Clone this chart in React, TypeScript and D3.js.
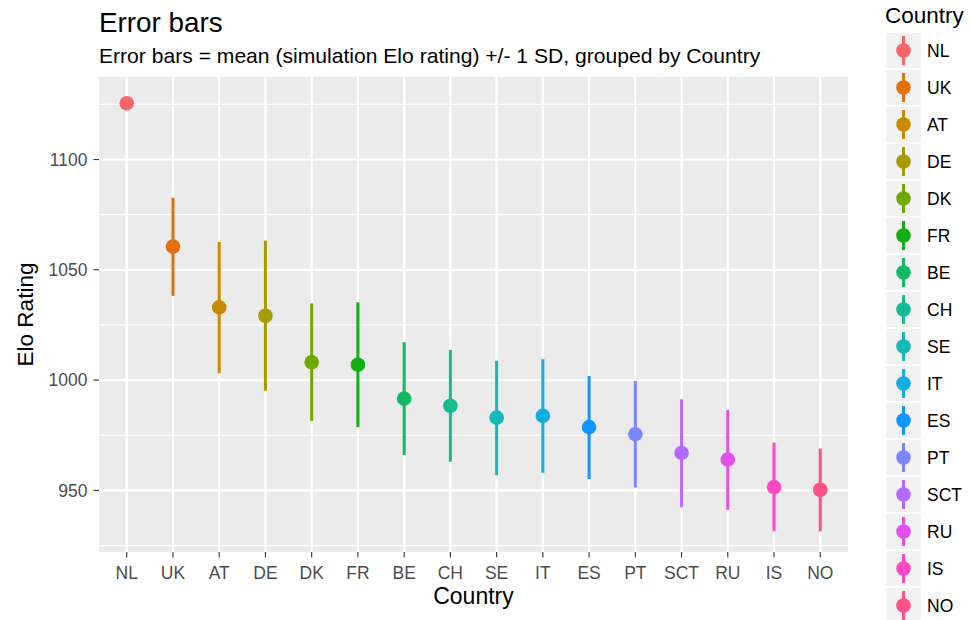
import React, { useEffect, useRef } from "react";
import * as d3 from "d3";

// values
const countries = ["NL", "UK", "AT", "DE", "DK", "FR", "BE", "CH", "SE", "IT", "ES", "PT", "SCT", "RU", "IS", "NO"];
const meanElo = [1125.5, 1060.5, 1033.0, 1029.2, 1008.1, 1007.0, 991.6, 988.4, 983.0, 983.8, 978.7, 975.5, 967.0, 964.0, 951.5, 950.3];
const upperElo = [null, 1082.7, 1062.6, 1063.2, 1034.8, 1035.3, 1017.2, 1013.7, 1008.8, 1009.5, 1001.9, 999.6, 991.3, 986.5, 971.7, 969.0];
const lowerElo = [null, 1038.2, 1003.1, 995.2, 981.5, 978.7, 966.1, 963.0, 956.9, 958.0, 955.2, 951.3, 942.4, 941.2, 931.5, 931.5];
const countryColors = ["#F5666B", "#E2700F", "#C88A00", "#A49C00", "#71A800", "#12B012", "#14B965", "#14BC90", "#16B7B7", "#14ADE2", "#1496FF", "#7B86FF", "#B56AFF", "#E250EA", "#FF48C4", "#FF5088"];
const yTicks = [950, 1000, 1050, 1100];
const yMinor = [925, 975, 1025, 1075, 1125];

const FONT = "'Liberation Sans', Arial, Helvetica, sans-serif";

export default function App() {
  const ref = useRef<SVGSVGElement>(null);

  useEffect(() => {
    const svg = d3.select(ref.current);
    svg.selectAll("*").remove();

    // panel box
    const panel = { left: 99, top: 77, right: 848, bottom: 552 };

    const x = d3.scalePoint<string>()
      .domain(countries)
      .range([panel.left, panel.right])
      .padding(0.6);

    const y = d3.scaleLinear()
      .domain([922.1, 1137.4])
      .range([panel.bottom, panel.top]);

    const color = d3.scaleOrdinal<string, string>().domain(countries).range(countryColors);

    // background
    svg.append("rect").attr("x", 0).attr("y", 0).attr("width", 972).attr("height", 620).attr("fill", "white");
    svg.append("rect")
      .attr("x", panel.left).attr("y", panel.top)
      .attr("width", panel.right - panel.left).attr("height", panel.bottom - panel.top)
      .attr("fill", "#EBEBEB");

    // grid lines (minor first, then major)
    svg.append("g").selectAll("line").data(yMinor).join("line")
      .attr("x1", panel.left).attr("x2", panel.right)
      .attr("y1", d => y(d)).attr("y2", d => y(d))
      .attr("stroke", "white").attr("stroke-width", 1.1);
    svg.append("g").selectAll("line").data(yTicks).join("line")
      .attr("x1", panel.left).attr("x2", panel.right)
      .attr("y1", d => y(d)).attr("y2", d => y(d))
      .attr("stroke", "white").attr("stroke-width", 2.2);
    svg.append("g").selectAll("line").data(countries).join("line")
      .attr("x1", d => x(d)!).attr("x2", d => x(d)!)
      .attr("y1", panel.top).attr("y2", panel.bottom)
      .attr("stroke", "white").attr("stroke-width", 2.2);

    // error bars + points
    const rows = countries.map((c, i) => ({ c, m: meanElo[i], hi: upperElo[i], lo: lowerElo[i] }));
    svg.append("g").selectAll("line").data(rows.filter(r => r.hi !== null)).join("line")
      .attr("x1", d => x(d.c)!).attr("x2", d => x(d.c)!)
      .attr("y1", d => y(d.hi as number)).attr("y2", d => y(d.lo as number))
      .attr("stroke", d => color(d.c)).attr("stroke-width", 3);
    svg.append("g").selectAll("circle").data(rows).join("circle")
      .attr("cx", d => x(d.c)!).attr("cy", d => y(d.m))
      .attr("r", 7.3)
      .attr("fill", d => color(d.c));

    // y axis
    const yAxis = svg.append("g").attr("font-family", FONT);
    yAxis.selectAll("line").data(yTicks).join("line")
      .attr("x1", panel.left - 5.5).attr("x2", panel.left)
      .attr("y1", d => y(d)).attr("y2", d => y(d))
      .attr("stroke", "#333333").attr("stroke-width", 1.1);
    yAxis.selectAll("text").data(yTicks).join("text")
      .attr("x", panel.left - 11.5).attr("y", d => y(d))
      .attr("dy", "0.36em")
      .attr("text-anchor", "end")
      .attr("font-size", 17.5).attr("fill", "#4D4D4D")
      .text(d => d);

    // x axis
    const xAxis = svg.append("g").attr("font-family", FONT);
    xAxis.selectAll("line").data(countries).join("line")
      .attr("x1", d => x(d)!).attr("x2", d => x(d)!)
      .attr("y1", panel.bottom).attr("y2", panel.bottom + 5.5)
      .attr("stroke", "#333333").attr("stroke-width", 1.1);
    xAxis.selectAll("text").data(countries).join("text")
      .attr("x", d => x(d)!).attr("y", 579)
      .attr("text-anchor", "middle")
      .attr("font-size", 17.5).attr("fill", "#4D4D4D")
      .text(d => d);

    // axis titles
    svg.append("text")
      .attr("x", (panel.left + panel.right) / 2).attr("y", 604)
      .attr("text-anchor", "middle")
      .attr("font-family", FONT).attr("font-size", 23).attr("fill", "black")
      .text("Country");
    svg.append("text")
      .attr("transform", `translate(33, ${(panel.top + panel.bottom) / 2}) rotate(-90)`)
      .attr("text-anchor", "middle")
      .attr("font-family", FONT).attr("font-size", 22.5).attr("fill", "black")
      .text("Elo Rating");

    // title and subtitle
    svg.append("text")
      .attr("x", panel.left).attr("y", 32)
      .attr("font-family", FONT).attr("font-size", 27.8).attr("fill", "black")
      .text("Error bars");
    svg.append("text")
      .attr("x", panel.left).attr("y", 62.5)
      .attr("font-family", FONT).attr("font-size", 21.1).attr("fill", "black")
      .text("Error bars = mean (simulation Elo rating) +/- 1 SD, grouped by Country");

    // legend
    const legend = svg.append("g").attr("font-family", FONT);
    legend.append("text")
      .attr("x", 885).attr("y", 23)
      .attr("font-size", 22.5).attr("fill", "black")
      .text("Country");
    const keys = legend.selectAll("g.key").data(countries).join("g")
      .attr("class", "key")
      .attr("transform", (d, i) => `translate(886, ${33 + i * 37})`);
    keys.append("rect")
      .attr("width", 35).attr("height", 35)
      .attr("fill", "#F2F2F2");
    keys.append("line")
      .attr("x1", 17.5).attr("x2", 17.5).attr("y1", 3).attr("y2", 32)
      .attr("stroke", d => color(d)).attr("stroke-width", 3);
    keys.append("circle")
      .attr("cx", 17.5).attr("cy", 17.5).attr("r", 7.3)
      .attr("fill", d => color(d));
    keys.append("text")
      .attr("x", 41).attr("y", 17.5).attr("dy", "0.36em")
      .attr("font-size", 17.5).attr("fill", "black")
      .text(d => d);
  }, []);

  return (
    <svg ref={ref} width={972} height={620} style={{ position: "absolute", left: 0, top: 0 }} />
  );
}
